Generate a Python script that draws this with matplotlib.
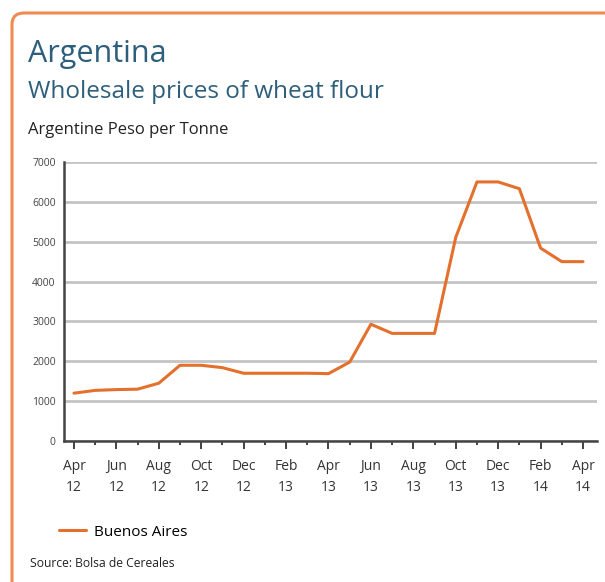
import numpy as np
import matplotlib.pyplot as plt
from matplotlib.patches import FancyBboxPatch

# monthly prices, Apr 2012 .. Apr 2014
months = ['Apr', 'May', 'Jun', 'Jul', 'Aug', 'Sep', 'Oct', 'Nov', 'Dec', 'Jan', 'Feb', 'Mar',
          'Apr', 'May', 'Jun', 'Jul', 'Aug', 'Sep', 'Oct', 'Nov', 'Dec', 'Jan', 'Feb', 'Mar', 'Apr']
years = ['12'] * 9 + ['13'] * 12 + ['14'] * 4
buenos_aires = [1200, 1270, 1290, 1300, 1450, 1900, 1900, 1840, 1700, 1700, 1700, 1700,
                1690, 1980, 2930, 2700, 2700, 2700, 5110, 6500, 6500, 6330, 4840, 4500, 4500]
y_ticks = [0, 1000, 2000, 3000, 4000, 5000, 6000, 7000]

orange = '#e4702d'
title_col = '#2d5e7c'
font = 'Open Sans'

fig = plt.figure(figsize=(6.05, 5.82), dpi=100)

# orange rounded frame, cut off at right and bottom like the original
frame = FancyBboxPatch((12/605, -0.05), 1.05, 1 - 13/582 + 0.05,
                       boxstyle='round,pad=0,rounding_size=0.02',
                       transform=fig.transFigure, facecolor='white',
                       edgecolor='#f08a50', linewidth=2.2, zorder=-10)
fig.patches.append(frame)

fig.text(28/605, 1 - 62/582, 'Argentina', fontsize=22, color=title_col, family=font)
fig.text(28/605, 1 - 98/582, 'Wholesale prices of wheat flour', fontsize=17.5,
         color=title_col, family=font)
fig.text(28/605, 1 - 134/582, 'Argentine Peso per Tonne', fontsize=12,
         color='#222222', family=font)

ax = fig.add_axes([64/605, 1 - 441/582, (597 - 64)/605, (441 - 162)/582])
ax.patch.set_alpha(0)
x = np.arange(len(buenos_aires))
line, = ax.plot(x, buenos_aires, color=orange, linewidth=2.2, solid_capstyle='round',
                zorder=3, label='Buenos Aires')

ax.set_xlim(-0.47, 24.66)
ax.set_ylim(0, 7000)
ax.set_yticks(y_ticks)
ax.set_yticklabels([str(v) for v in y_ticks], fontsize=7.5, color='#444444', family=font)
ax.yaxis.grid(True, color='#c4c4c4', linewidth=2)
ax.set_axisbelow(True)

ax.set_xticks(x[::2])
ax.set_xticklabels([m + '\n' + y for m, y in zip(months[::2], years[::2])],
                   fontsize=10, color='#333333', family=font, linespacing=1.5)
ax.set_xticks(x[1::2], minor=True)
ax.tick_params(axis='x', which='major', length=6, width=1.3, color='#333333', pad=7)
ax.tick_params(axis='x', which='minor', length=3, width=1.3, color='#333333')
ax.tick_params(axis='y', length=0, pad=6)

for s in ['top', 'right']:
    ax.spines[s].set_visible(False)
for s in ['left', 'bottom']:
    ax.spines[s].set_color('#444444')
    ax.spines[s].set_linewidth(1.8)

leg = fig.legend(handles=[line], loc='center left', bbox_to_anchor=(45/605, 1 - 532/582),
                 frameon=False, prop={'family': font, 'size': 11}, handlelength=1.8,
                 handletextpad=0.5)

fig.text(30/605, 1 - 567/582, 'Source: Bolsa de Cereales', fontsize=8.7,
         color='#222222', family=font)

fig.savefig('out.png', dpi=100)
